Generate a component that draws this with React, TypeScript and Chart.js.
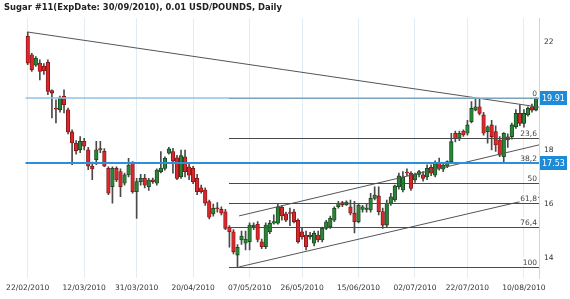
import React, { useEffect, useRef } from 'react';
import { Chart, registerables } from 'chart.js';

Chart.register(...registerables);

const TITLE = 'Sugar #11(ExpDate: 30/09/2010), 0.01 USD/POUNDS, Daily';

const opens = [
  22.21, 21.53, 21.14, 21.22, 21.10, 21.25, 20.20, 19.55, 19.49, 19.99,
  19.49, 18.67, 18.26, 18.01, 18.32, 18.01, 17.40, 17.64, 18.05, 17.95,
  17.32, 16.64, 17.32, 17.20, 16.77, 17.08, 17.51, 16.46, 16.83, 16.96,
  16.64, 16.90, 16.77, 17.20, 17.32, 17.88, 17.94, 17.71, 17.01, 17.75,
  17.38, 17.32, 16.95, 16.60, 16.52, 16.09, 15.63, 15.86, 15.80, 15.71,
  15.14, 14.97, 14.11, 14.67, 14.55, 14.60, 15.16, 15.25, 14.60, 14.42,
  14.97, 15.29, 15.29, 15.88, 15.64, 15.68, 15.71, 15.40, 14.97, 14.85,
  14.79, 14.55, 14.85, 14.67, 15.10, 15.16, 15.40, 15.90, 16.05, 15.97,
  15.90, 15.66, 15.34, 15.80, 15.80, 15.78, 16.21, 16.30, 15.72, 15.22,
  16.03, 16.15, 16.64, 16.52, 17.18, 17.14, 16.89, 17.10, 17.08, 17.00,
  17.36, 17.07, 17.53, 17.29, 17.40, 17.57, 18.62, 18.44, 18.70, 18.62,
  19.05, 19.48, 19.60, 19.30, 18.68, 18.93, 18.68, 18.37, 17.75, 18.49,
  18.49, 18.86, 19.36, 18.99, 19.30, 19.60, 19.48,
];
const highs = [
  22.37, 21.58, 21.46, 21.34, 21.20, 21.34, 20.23, 19.86, 20.00, 20.23,
  19.55, 18.75, 18.35, 18.50, 18.43, 18.10, 17.55, 18.32, 18.32, 18.05,
  17.38, 17.38, 17.38, 17.30, 17.15, 17.69, 17.57, 16.95, 17.10, 17.10,
  16.95, 16.96, 17.30, 17.94, 17.75, 18.10, 18.06, 17.80, 18.00, 18.00,
  17.50, 17.40, 17.10, 16.70, 16.60, 16.15, 16.00, 16.05, 15.90, 15.80,
  15.20, 15.05, 14.50, 15.00, 15.00, 15.30, 15.30, 15.35, 14.70, 15.30,
  15.40, 15.60, 16.00, 15.95, 15.70, 15.85, 15.80, 15.45, 15.10, 15.00,
  14.95, 15.00, 15.00, 15.15, 15.40, 15.55, 15.90, 16.10, 16.10, 16.12,
  16.15, 16.10, 16.00, 15.95, 16.00, 16.40, 16.64, 16.64, 15.85, 16.15,
  16.40, 16.70, 17.15, 17.20, 17.30, 17.20, 17.15, 17.25, 17.20, 17.45,
  17.45, 17.60, 17.70, 17.50, 17.60, 18.62, 18.70, 18.70, 18.75, 19.10,
  19.79, 19.88, 19.91, 19.40, 18.90, 19.10, 18.90, 18.50, 18.65, 18.60,
  19.00, 19.50, 19.67, 19.50, 19.60, 19.70, 19.95,
];
const lows = [
  21.16, 20.91, 21.10, 20.60, 20.80, 20.05, 19.19, 19.00, 19.40, 19.37,
  18.60, 17.46, 17.85, 17.90, 18.00, 17.27, 16.90, 17.46, 17.90, 17.38,
  16.35, 16.03, 16.83, 16.27, 16.70, 17.00, 16.40, 15.47, 16.70, 16.60,
  16.50, 16.76, 16.70, 17.15, 17.25, 17.85, 17.14, 16.90, 16.95, 17.00,
  16.90, 16.75, 16.35, 16.40, 15.95, 15.45, 15.55, 15.70, 15.60, 15.05,
  14.40, 14.15, 13.67, 14.50, 14.30, 14.30, 15.05, 14.60, 14.35, 14.35,
  14.90, 15.25, 15.25, 15.40, 15.35, 15.20, 15.30, 14.55, 14.70, 14.30,
  14.70, 14.45, 14.60, 14.60, 15.05, 15.10, 15.35, 15.85, 15.90, 15.95,
  15.60, 14.93, 15.30, 15.70, 15.70, 15.70, 16.15, 15.60, 15.10, 15.15,
  15.95, 16.10, 16.55, 16.45, 17.05, 16.50, 16.80, 17.00, 16.85, 16.90,
  17.05, 17.00, 17.25, 17.20, 17.35, 17.50, 18.30, 18.35, 18.50, 18.55,
  19.00, 19.45, 19.30, 18.55, 18.25, 18.00, 17.95, 17.75, 17.52, 18.10,
  18.40, 18.80, 18.90, 18.85, 19.25, 19.40, 19.45,
];
const closes = [
  21.22, 20.97, 21.41, 20.91, 20.94, 20.17, 20.11, 19.51, 19.93, 19.68,
  18.67, 18.26, 17.97, 18.32, 18.14, 17.40, 17.30, 18.01, 18.00, 17.40,
  16.40, 17.32, 16.89, 16.64, 17.08, 17.44, 16.46, 16.83, 16.95, 16.70,
  16.89, 16.83, 17.26, 17.33, 17.69, 18.04, 17.59, 16.95, 17.79, 17.20,
  17.07, 16.83, 16.46, 16.46, 16.03, 15.51, 15.84, 15.83, 15.66, 15.10,
  14.97, 14.23, 14.40, 14.81, 14.70, 15.22, 15.22, 14.69, 14.42, 15.22,
  15.29, 15.35, 15.90, 15.56, 15.40, 15.65, 15.34, 14.60, 14.79, 14.42,
  14.85, 14.92, 14.67, 15.10, 15.34, 15.47, 15.84, 16.03, 15.97, 16.07,
  15.66, 15.34, 15.96, 15.90, 15.85, 16.21, 16.33, 15.72, 15.22, 16.03,
  16.27, 16.67, 17.04, 17.01, 17.15, 16.58, 17.10, 17.20, 16.95, 17.32,
  17.14, 17.50, 17.32, 17.44, 17.57, 18.31, 18.43, 18.62, 18.56, 18.93,
  19.54, 19.60, 19.36, 18.62, 18.86, 18.49, 18.19, 17.81, 18.62, 18.37,
  18.93, 19.36, 18.99, 19.36, 19.55, 19.48, 19.91,
];

const tickIndex = [0, 14, 27, 41, 55, 68, 82, 96, 109, 123];
const tickLabels = [
  '22/02/2010', '12/03/2010', '31/03/2010', '20/04/2010', '07/05/2010',
  '26/05/2010', '15/06/2010', '02/07/2010', '22/07/2010', '10/08/2010',
];
const yTicks = [14, 16, 18, 20, 22];

const fibHigh = 19.91;
const fibLow = 13.67;
const fibStartIndex = 50;
const fibLevels = [0, 23.6, 38.2, 50, 61.8, 76.4, 100];
const fibLabels = ['0', '23,6', '38,2', '50', '61,8', '76,4', '100'];

const priceLines = [19.91, 17.53];
const priceLabels = ['19.91', '17.53'];

const trendStarts = [[0, 22.37], [52.4, 15.56], [52.4, 13.67]];
const trendEnds = [[126.74, 19.59], [126.74, 18.19], [126.74, 16.25]];

const X_MIN = -0.6;
const X_MAX = 126.74;
const Y_MIN = 13.26;
const Y_MAX = 22.89;

const RED = '#d8282c';
const RED_BORDER = '#7a1414';
const GREEN = '#2a8438';
const GREEN_BORDER = '#143f18';

const overlayPlugin = {
  id: 'overlay',
  afterDatasetsDraw(chart: any) {
    const { ctx, chartArea } = chart;
    const x = chart.scales.x;
    const y = chart.scales.y;
    ctx.save();
    ctx.beginPath();
    ctx.rect(chartArea.left, chartArea.top, chartArea.right - chartArea.left, chartArea.bottom - chartArea.top);
    ctx.clip();

    // trend lines
    ctx.strokeStyle = '#555555';
    ctx.lineWidth = 1;
    trendStarts.forEach((s, i) => {
      const e = trendEnds[i];
      ctx.beginPath();
      ctx.moveTo(x.getPixelForValue(s[0]), y.getPixelForValue(s[1]));
      ctx.lineTo(x.getPixelForValue(e[0]), y.getPixelForValue(e[1]));
      ctx.stroke();
    });

    // fibonacci levels
    const fx = Math.round(x.getPixelForValue(fibStartIndex));
    ctx.strokeStyle = '#4a4a4a';
    fibLevels.forEach((lvl) => {
      const v = fibHigh - ((fibHigh - fibLow) * lvl) / 100;
      const py = Math.round(y.getPixelForValue(v)) + 0.5;
      ctx.beginPath();
      ctx.moveTo(fx, py);
      ctx.lineTo(chartArea.right, py);
      ctx.stroke();
    });

    ctx.font = '7.5px "DejaVu Sans"';
    ctx.textAlign = 'right';
    ctx.textBaseline = 'alphabetic';
    const xr = chartArea.right - 2;
    fibLevels.forEach((lvl, i) => {
      const v = fibHigh - ((fibHigh - fibLow) * lvl) / 100;
      const py = Math.round(y.getPixelForValue(v));
      const t = fibLabels[i];
      const w = ctx.measureText(t).width;
      ctx.fillStyle = '#ffffff';
      ctx.fillRect(xr - w - 1, py - 10, w + 2, 9);
      ctx.fillStyle = '#444444';
      ctx.fillText(t, xr, py - 2);
    });

    // price lines
    priceLines.forEach((p, i) => {
      const py = Math.round(y.getPixelForValue(p));
      ctx.strokeStyle = i === 0 ? '#8fc3e4' : '#2b90dc';
      ctx.lineWidth = i === 0 ? 1.5 : 2;
      ctx.beginPath();
      ctx.moveTo(chartArea.left, py);
      ctx.lineTo(chartArea.right, py);
      ctx.stroke();
    });
    ctx.restore();
  },
  afterDraw(chart: any) {
    const { ctx, chartArea } = chart;
    const y = chart.scales.y;
    ctx.save();
    priceLines.forEach((p, i) => {
      const py = Math.round(y.getPixelForValue(p));
      ctx.fillStyle = '#1f8ad6';
      ctx.fillRect(chartArea.right + 1, py - 7, 27, 14);
      ctx.fillStyle = '#ffffff';
      ctx.font = '8px "DejaVu Sans"';
      ctx.textAlign = 'left';
      ctx.textBaseline = 'middle';
      ctx.fillText(priceLabels[i], chartArea.right + 3, py + 0.5);
    });
    ctx.font = 'bold 8.4px "DejaVu Sans"';
    ctx.fillStyle = '#222222';
    ctx.textAlign = 'left';
    ctx.textBaseline = 'middle';
    ctx.fillText(TITLE, 4, 8);
    ctx.restore();
  },
};

export default function App() {
  const ref = useRef<HTMLCanvasElement | null>(null);

  useEffect(() => {
    if (!ref.current) return;
    const idx = opens.map((_, i) => i);
    const up = idx.map((i) => closes[i] >= opens[i]);
    const bodyData = idx.map((i) => ({ x: i, y: [opens[i], closes[i]] }));
    const wickData = idx.map((i) => ({ x: i, y: [lows[i], highs[i]] }));

    const chart = new Chart(ref.current, {
      type: 'bar',
      data: {
        datasets: [
          {
            data: bodyData as any,
            backgroundColor: up.map((u) => (u ? GREEN : RED)),
            borderColor: up.map((u) => (u ? GREEN_BORDER : RED_BORDER)),
            borderWidth: 0.8,
            borderSkipped: false,
            barThickness: 3.6,
            grouped: false,
            order: 0,
          } as any,
          {
            data: wickData as any,
            backgroundColor: '#4a4a4a',
            borderWidth: 0,
            barThickness: 1,
            grouped: false,
            order: 1,
          } as any,
        ],
      },
      options: {
        animation: false,
        responsive: false,
        devicePixelRatio: 1,
        layout: { padding: { left: 23, top: 18, right: 0, bottom: 0 } },
        plugins: { legend: { display: false }, tooltip: { enabled: false }, title: { display: false } },
        scales: {
          x: {
            type: 'linear',
            min: X_MIN,
            max: X_MAX,
            offset: false,
            afterBuildTicks: (axis: any) => {
              axis.ticks = tickIndex.map((v) => ({ value: v }));
            },
            afterFit: (axis: any) => {
              axis.height = 21;
            },
            grid: { display: true, color: '#e3ecf3', drawTicks: false, offset: false },
            border: { display: false },
            ticks: {
              autoSkip: false,
              maxRotation: 0,
              padding: 6,
              color: '#333333',
              font: { family: 'DejaVu Sans', size: 7.5 },
              callback: (_v: any, i: number) => tickLabels[i],
            },
          },
          y: {
            type: 'linear',
            position: 'right',
            min: Y_MIN,
            max: Y_MAX,
            afterBuildTicks: (axis: any) => {
              axis.ticks = yTicks.map((v) => ({ value: v }));
            },
            afterFit: (axis: any) => {
              axis.width = 31;
            },
            grid: { display: false, drawTicks: false },
            border: { display: true, color: '#d4d4d4', width: 1 },
            ticks: {
              padding: 5,
              color: '#333333',
              font: { family: 'DejaVu Sans', size: 7.5 },
              callback: (v: any) => String(v),
            },
          },
        },
      } as any,
      plugins: [overlayPlugin],
    });
    return () => chart.destroy();
  }, []);

  return (
    <div style={{ position: 'absolute', left: 0, top: 0, width: 570, height: 299, background: '#ffffff' }}>
      <canvas ref={ref} width={570} height={299} />
    </div>
  );
}
